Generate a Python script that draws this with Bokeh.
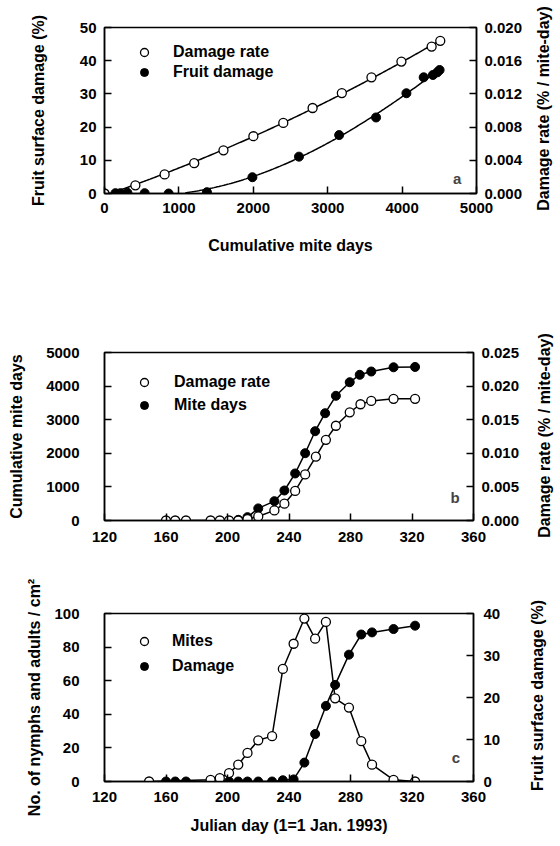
import numpy as np
from bokeh.plotting import figure
from bokeh.models import Range1d, LinearAxis, FixedTicker, Legend, LegendItem, Label, NumeralTickFormatter
from bokeh.layouts import column, row
from bokeh.embed import file_html
from bokeh.resources import INLINE

FONT = "Liberation Sans"

# ---------------- Panel a data ----------------
a_rate_x = [0, 415, 808, 1206, 1599, 2001, 2403, 2797, 3190, 3588, 3991, 4397, 4513]
a_rate_y = [0.0, 0.00098, 0.0023, 0.00365, 0.0052, 0.0069, 0.0085, 0.0103, 0.0121, 0.0140, 0.0159, 0.0177, 0.0184]
a_dmg_x = [0, 147, 214, 308, 540, 862, 1377, 1988, 2614, 3154, 3650, 4058, 4290, 4414, 4473, 4504]
a_dmg_y = [0, 0.1, 0.1, 0.2, 0.1, 0.0, 0.4, 4.9, 11.1, 17.6, 22.9, 30.2, 35.0, 35.7, 36.5, 37.2]

# ---------------- Panel b data ----------------
b_rate_day = [160, 166, 173, 189, 195, 201, 207, 213, 220, 230.5, 237, 244, 250.5, 257.5, 264, 270.5, 279.5, 286.5, 293.5, 308, 322]
b_rate_val = [0, 0, 0, 0, 0, 0, 0, 0.0002, 0.0006, 0.0015, 0.0025, 0.0044, 0.00685, 0.0095, 0.0120, 0.0141, 0.0161, 0.0173, 0.0178, 0.0181, 0.0181]
b_md_day = [207, 213, 220, 230.5, 237, 244, 250.5, 257, 263.5, 270.5, 279.5, 286, 293.5, 308, 322]
b_md_val = [20, 100, 360, 575, 893, 1400, 2003, 2658, 3193, 3711, 4116, 4336, 4434, 4560, 4570]

# ---------------- Panel c data ----------------
c_mite_day = [149, 189, 195, 201, 207, 213, 220, 229, 236, 243, 250, 257, 264, 270, 279, 287, 294, 308, 322]
c_mite_val = [0, 1, 2, 5, 10, 17, 24.5, 27, 67, 82, 97, 85, 95, 49.5, 44, 24, 10, 1, 0]
c_dmg_day = [160, 166, 173, 189, 195, 201, 207, 213, 220, 229, 236, 243, 250, 257, 264, 270, 279, 287, 294, 308, 322]
c_dmg_val = [0, 0, 0, 0, 0, 0, 0, 0, 0, 0, 0.3, 0.5, 4.5, 11.3, 18, 23, 30.2, 35, 35.5, 36.3, 37.1]

RIGHT_TITLE_AB = "Damage rate (% / mite-day)"
RIGHT_TITLE_C = "Fruit surface damage (%)"

H_A, H_B, H_C = 300, 265, 279
TOTAL_H = H_A + H_B + H_C
STRIP_W = 30


def style_axis(ax, label_standoff=8, title_standoff=10):
    ax.axis_line_width = 1.5
    ax.axis_line_color = "black"
    ax.major_tick_in = 7
    ax.major_tick_out = 0
    ax.minor_tick_in = 0
    ax.minor_tick_out = 0
    ax.major_tick_line_width = 1.5
    ax.major_tick_line_color = "black"
    ax.major_label_text_font = FONT
    ax.major_label_text_font_size = "15px"
    ax.major_label_text_font_style = "bold"
    ax.major_label_text_color = "black"
    ax.major_label_standoff = label_standoff
    ax.axis_label_text_font = FONT
    ax.axis_label_text_font_size = "16px"
    ax.axis_label_text_font_style = "bold"
    ax.axis_label_text_color = "black"
    ax.axis_label_standoff = title_standoff


def make_fig(xr, yr, fw, fh, bl, bt, br, bb):
    p = figure(frame_width=fw, frame_height=fh, x_range=xr, y_range=yr,
               min_border_left=bl, min_border_top=bt, min_border_right=br, min_border_bottom=bb,
               toolbar_location=None, output_backend="svg")
    p.xgrid.visible = False
    p.ygrid.visible = False
    p.outline_line_color = "black"
    p.outline_line_width = 1.5
    p.background_fill_color = "white"
    p.border_fill_color = "white"
    return p


def make_legend(p, items, margin, gw, standoff, spacing):
    leg = Legend(items=[LegendItem(label=l, renderers=[r]) for l, r in items],
                 location="top_left", margin=margin, padding=0, spacing=spacing,
                 glyph_width=gw, glyph_height=20, label_height=20, label_standoff=standoff,
                 border_line_color=None, background_fill_alpha=0,
                 label_text_font=FONT, label_text_font_size="16px", label_text_font_style="bold",
                 label_text_color="black")
    p.add_layout(leg)


def panel_letter(p, x, y, t):
    p.add_layout(Label(x=x, y=y, text=t, text_font=FONT, text_font_size="15px",
                       text_font_style="bold", text_align="center", text_baseline="middle"))


open_kw = dict(size=9, fill_color="white", line_color="black", line_width=1.3)
fill_kw = dict(size=9, fill_color="black", line_color="black", line_width=1.0)

# ================= Panel a =================
pa = make_fig(Range1d(0, 5000), Range1d(0, 50), 372, 166, 104, 27, 52, 107)
pa.extra_y_ranges = {"r": Range1d(0, 0.020)}
ra = LinearAxis(y_range_name="r")
pa.add_layout(ra, "right")
pa.xaxis.ticker = FixedTicker(ticks=[0, 1000, 2000, 3000, 4000, 5000])
pa.yaxis[0].ticker = FixedTicker(ticks=[0, 10, 20, 30, 40, 50])
ra.ticker = FixedTicker(ticks=[0, 0.004, 0.008, 0.012, 0.016, 0.020])
ra.formatter = NumeralTickFormatter(format="0.000")
pa.xaxis.axis_label = "Cumulative mite days"
pa.yaxis[0].axis_label = "Fruit surface damage (%)"
style_axis(pa.xaxis[0], 9, 21)
style_axis(pa.yaxis[0], 8, 30)
style_axis(ra, 8, 8)

# fitted curves
ax_ = np.array(a_rate_x, float); ay_ = np.array(a_rate_y, float)
ca = np.polyfit(ax_, ay_, 2)
xs = np.linspace(0, max(a_rate_x), 200)
pa.line(xs, np.polyval(ca, xs), y_range_name="r", line_color="black", line_width=1.5)
dx_ = np.array(a_dmg_x, float); dy_ = np.array(a_dmg_y, float)
cd = np.polyfit(dx_, dy_, 3)
xs2 = np.linspace(0, max(a_dmg_x), 200)
ys2 = np.polyval(cd, xs2)
m = (ys2 > 0.2) & (xs2 > 600)
pa.line(xs2[m], ys2[m], line_color="black", line_width=1.5)
r_a_dmg = pa.scatter(a_dmg_x, a_dmg_y, **fill_kw)
r_a_rate = pa.scatter(a_rate_x, a_rate_y, y_range_name="r", **open_kw)
make_legend(pa, [("Damage rate", r_a_rate), ("Fruit damage", r_a_dmg)], 15, 50, 4, 0)
panel_letter(pa, 4740, 4.5, "a")

# ================= Panel b =================
pb = make_fig(Range1d(120, 360), Range1d(0, 5000), 369, 168, 104, 52, 55, 45)
pb.extra_y_ranges = {"r": Range1d(0, 0.025)}
rb = LinearAxis(y_range_name="r")
pb.add_layout(rb, "right")
pb.xaxis.ticker = FixedTicker(ticks=[120, 160, 200, 240, 280, 320, 360])
pb.yaxis[0].ticker = FixedTicker(ticks=[0, 1000, 2000, 3000, 4000, 5000])
rb.ticker = FixedTicker(ticks=[0, 0.005, 0.010, 0.015, 0.020, 0.025])
rb.formatter = NumeralTickFormatter(format="0.000")
pb.yaxis[0].axis_label = "Cumulative mite days"
style_axis(pb.xaxis[0], 11, 10)
style_axis(pb.yaxis[0], 25, 18)
style_axis(rb, 8, 12)
pb.line(b_md_day, b_md_val, line_color="black", line_width=1.5)
pb.line(b_rate_day, b_rate_val, y_range_name="r", line_color="black", line_width=1.5)
r_b_md = pb.scatter(b_md_day, b_md_val, **fill_kw)
r_b_rate = pb.scatter(b_rate_day, b_rate_val, y_range_name="r", **open_kw)
make_legend(pb, [("Damage rate", r_b_rate), ("Mite days", r_b_md)], 20, 40, 10, 3)
panel_letter(pb, 348, 690, "b")

# ================= Panel c =================
pc = make_fig(Range1d(120, 360), Range1d(0, 100), 369, 168, 104, 48, 55, 63)
pc.extra_y_ranges = {"r": Range1d(0, 40)}
rc = LinearAxis(y_range_name="r")
pc.add_layout(rc, "right")
pc.xaxis.ticker = FixedTicker(ticks=[120, 160, 200, 240, 280, 320, 360])
pc.yaxis[0].ticker = FixedTicker(ticks=[0, 20, 40, 60, 80, 100])
rc.ticker = FixedTicker(ticks=[0, 10, 20, 30, 40])
pc.xaxis.axis_label = "Julian day (1=1 Jan. 1993)"
pc.yaxis[0].axis_label = "No. of nymphs and adults / cm\u00b2"
style_axis(pc.xaxis[0], 10, 12)
style_axis(pc.yaxis[0], 25, 8)
style_axis(rc, 10, 15)
pc.line(c_mite_day, c_mite_val, line_color="black", line_width=1.5)
pc.line(c_dmg_day, c_dmg_val, y_range_name="r", line_color="black", line_width=1.5)
r_c_dmg = pc.scatter(c_dmg_day, c_dmg_val, y_range_name="r", **fill_kw)
r_c_mite = pc.scatter(c_mite_day, c_mite_val, **open_kw)
make_legend(pc, [("Mites", r_c_mite), ("Damage", r_c_dmg)], 18, 44, 6, 5)
panel_letter(pc, 348.5, 14.4, "c")

# ======== one tall strip on the right for the upward-reading right-hand titles ========
strip = figure(frame_width=STRIP_W, frame_height=TOTAL_H, x_range=Range1d(0, STRIP_W),
               y_range=Range1d(0, TOTAL_H), x_axis_type=None, y_axis_type=None,
               min_border_left=0, min_border_right=0, min_border_top=0, min_border_bottom=0,
               toolbar_location=None, output_backend="svg")
strip.xgrid.visible = False
strip.ygrid.visible = False
strip.outline_line_color = None
strip.background_fill_color = "white"
strip.border_fill_color = "white"
for xc, yc_top, txt in [(15, 108, RIGHT_TITLE_AB), (16, 435, RIGHT_TITLE_AB), (9, 695, RIGHT_TITLE_C)]:
    strip.add_layout(Label(x=xc, y=TOTAL_H - yc_top, text=txt, angle=float(np.pi / 2),
                           text_font=FONT, text_font_size="16px", text_font_style="bold",
                           text_align="center", text_baseline="middle", text_color="black"))

layout = row(column(pa, pb, pc, spacing=0), strip, spacing=0)
open("out.html", "w").write(file_html(layout, INLINE))
